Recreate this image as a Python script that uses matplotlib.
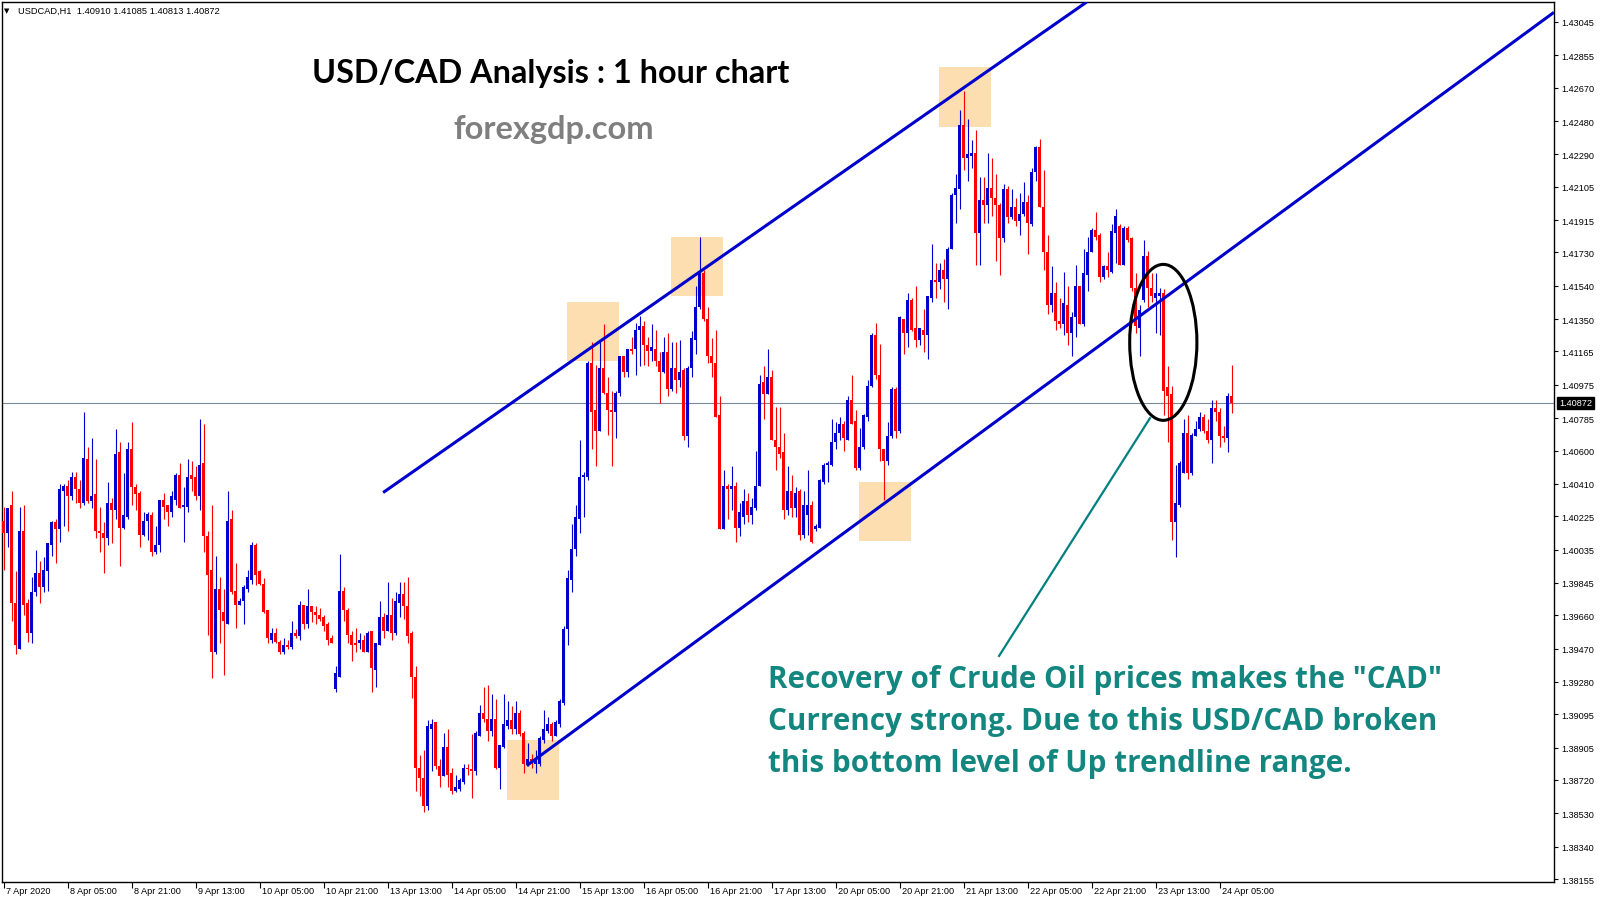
import matplotlib
matplotlib.use("Agg")
import matplotlib.pyplot as plt
import matplotlib.transforms as mtransforms
from matplotlib.patches import Rectangle, Ellipse

# ---------------- data ----------------
opens = [1.4020,1.4013,1.4029,1.3973,1.3947,1.4014,1.3973,1.3956,1.3979,1.3990,
 1.3982,1.3991,1.4006,1.4019,1.4015,1.4037,1.4040,1.4034,1.4045,1.4038,
 1.4030,1.4055,1.4031,1.4035,1.4014,1.4013,1.4010,1.4030,1.4026,1.4059,
 1.4016,1.4022,1.4061,1.4039,1.4036,1.4012,1.4020,1.4023,1.4002,1.4006,
 1.4032,1.4029,1.4025,1.4032,1.4046,1.4028,1.4028,1.4046,1.4045,1.4034,
 1.4053,1.4011,1.3992,1.3945,1.3981,1.3968,1.3961,1.4021,1.3980,1.3972,
 1.3974,1.3981,1.3986,1.4006,1.3991,1.3984,1.3969,1.3952,1.3956,1.3951,
 1.3945,1.3949,1.3948,1.3956,1.3954,1.3972,1.3961,1.3971,1.3968,1.3966,
 1.3965,1.3961,1.3953,1.3924,1.3931,1.3980,1.3969,1.3955,1.3950,1.3950,
 1.3952,1.3945,1.3957,1.3935,1.3949,1.3965,1.3957,1.3966,1.3956,1.3973,
 1.3978,1.3971,1.3956,1.3931,1.3879,1.3873,1.3857,1.3901,1.3905,1.3880,
 1.3874,1.3891,1.3876,1.3866,1.3867,1.3871,1.3879,1.3878,1.3877,1.3897,
 1.3910,1.3907,1.3900,1.3907,1.3879,1.3891,1.3903,1.3906,1.3901,1.3910,
 1.3899,1.3881,1.3884,1.3881,1.3881,1.3895,1.3900,1.3904,1.3897,1.3904,
 1.3916,1.3958,1.3986,1.4004,1.4021,1.4045,1.4045,1.4110,1.4083,1.4071,
 1.4107,1.4093,1.4083,1.4082,1.4093,1.4114,1.4105,1.4118,1.4118,1.4129,
 1.4131,1.4120,1.4117,1.4118,1.4111,1.4105,1.4116,1.4095,1.4107,1.4100,
 1.4106,1.4068,1.4107,1.4123,1.4142,1.4161,1.4135,1.4114,1.4110,1.4080,
 1.4015,1.4040,1.4038,1.4040,1.4016,1.4022,1.4031,1.4023,1.4027,1.4040,
 1.4099,1.4092,1.4102,1.4066,1.4062,1.4059,1.4026,1.4037,1.4027,1.4037,
 1.4012,1.4023,1.4029,1.4015,1.4016,1.4042,1.4052,1.4052,1.4065,1.4070,
 1.4075,1.4066,1.4089,1.4077,1.4050,1.4062,1.4079,1.4097,1.4126,1.4103,
 1.4061,1.4054,1.4068,1.4095,1.4071,1.4135,1.4127,1.4146,1.4130,1.4123,
 1.4129,1.4126,1.4147,1.4157,1.4156,1.4163,1.4158,1.4175,1.4206,1.4209,
 1.4246,1.4227,1.4228,1.4230,1.4184,1.4203,1.4200,1.4210,1.4204,1.4200,
 1.4181,1.4209,1.4193,1.4199,1.4191,1.4195,1.4202,1.4189,1.4219,1.4233,
 1.4199,1.4173,1.4143,1.4150,1.4134,1.4132,1.4143,1.4127,1.4136,1.4154,
 1.4132,1.4160,1.4173,1.4186,1.4183,1.4159,1.4165,1.4162,1.4184,1.4188,
 1.4166,1.4187,1.4181,1.4153,1.4130,1.4146,1.4171,1.4153,1.4147,1.4148,
 1.4150,1.4096,1.4092,1.4019,1.4029,1.4047,1.4070,1.4047,1.4068,1.4072,
 1.4079,1.4071,1.4066,1.4084,1.4082,1.4068,1.4067,1.40910]
highs = [1.4028,1.4027,1.4037,1.3991,1.4028,1.4029,1.3975,1.3988,1.4003,1.3997,
 1.3999,1.4007,1.4020,1.4021,1.4041,1.4041,1.4043,1.4048,1.4048,1.4043,
 1.4082,1.4062,1.4067,1.4055,1.4028,1.4019,1.4042,1.4033,1.4072,1.4065,
 1.4047,1.4065,1.4076,1.4041,1.4037,1.4025,1.4025,1.4025,1.4017,1.4032,
 1.4036,1.4029,1.4037,1.4047,1.4053,1.4039,1.4055,1.4054,1.4051,1.4078,
 1.4075,1.4014,1.4029,1.4000,1.3988,1.3981,1.4037,1.4026,1.3996,1.3976,
 1.3983,1.3992,1.4008,1.4007,1.3992,1.3987,1.3969,1.3959,1.3959,1.3952,
 1.3953,1.3952,1.3963,1.3958,1.3974,1.3972,1.3981,1.3971,1.3971,1.3970,
 1.3966,1.3962,1.3955,1.3937,1.4001,1.3982,1.3970,1.3957,1.3959,1.3956,
 1.3955,1.3957,1.3957,1.3950,1.3974,1.3967,1.3985,1.3976,1.3979,1.3985,
 1.3985,1.3988,1.3957,1.3937,1.3886,1.3889,1.3906,1.3907,1.3905,1.3884,
 1.3899,1.3901,1.3879,1.3875,1.3873,1.3881,1.3881,1.3898,1.3900,1.3915,
 1.3925,1.3926,1.3921,1.3918,1.3892,1.3921,1.3917,1.3914,1.3917,1.3912,
 1.3900,1.3893,1.3887,1.3889,1.3897,1.3912,1.3908,1.3905,1.3906,1.3918,
 1.3960,1.3992,1.4018,1.4029,1.4066,1.4048,1.4111,1.4122,1.4109,1.4123,
 1.4132,1.4102,1.4094,1.4094,1.4114,1.4114,1.4118,1.4125,1.4133,1.4137,
 1.4134,1.4125,1.4132,1.4129,1.4116,1.4125,1.4127,1.4122,1.4122,1.4123,
 1.4107,1.4108,1.4128,1.4154,1.4182,1.4163,1.4142,1.4124,1.4129,1.4091,
 1.4049,1.4041,1.4051,1.4042,1.4030,1.4038,1.4036,1.4033,1.4060,1.4103,
 1.4108,1.4118,1.4106,1.4085,1.4085,1.4070,1.4051,1.4046,1.4039,1.4038,
 1.4037,1.4049,1.4031,1.4018,1.4044,1.4053,1.4054,1.4078,1.4076,1.4079,
 1.4077,1.4091,1.4103,1.4083,1.4073,1.4081,1.4100,1.4127,1.4133,1.4121,
 1.4061,1.4076,1.4096,1.4096,1.4137,1.4135,1.4150,1.4147,1.4154,1.4130,
 1.4141,1.4148,1.4178,1.4167,1.4167,1.4169,1.4176,1.4207,1.4218,1.4254,
 1.4265,1.4249,1.4237,1.4243,1.4216,1.4216,1.4230,1.4227,1.4218,1.4201,
 1.4212,1.4211,1.4209,1.4204,1.4207,1.4213,1.4206,1.4221,1.4234,1.4238,
 1.4220,1.4183,1.4165,1.4156,1.4147,1.4162,1.4154,1.4139,1.4166,1.4154,
 1.4175,1.4182,1.4187,1.4196,1.4184,1.4166,1.4173,1.4189,1.4198,1.4189,
 1.4188,1.4188,1.4182,1.4161,1.4143,1.4180,1.4174,1.4161,1.4161,1.4153,
 1.4152,1.4108,1.4097,1.4052,1.4054,1.4078,1.4080,1.4070,1.4077,1.4082,
 1.4081,1.4078,1.4089,1.4089,1.4084,1.4074,1.4093,1.41085]
lows = [1.3992,1.4005,1.3963,1.3944,1.3947,1.3966,1.3951,1.3950,1.3977,1.3973,
 1.3979,1.3980,1.4000,1.3996,1.4008,1.4017,1.4014,1.4032,1.4030,1.4027,
 1.4029,1.4030,1.4027,1.4010,1.4002,1.3990,1.4006,1.4007,1.4021,1.3994,
 1.4015,1.4021,1.4029,1.4026,1.4005,1.4011,1.4009,1.4000,1.4001,1.4002,
 1.4021,1.4017,1.4022,1.4029,1.4027,1.4008,1.4025,1.4037,1.4032,1.4026,
 1.4002,1.3955,1.3930,1.3944,1.3950,1.3932,1.3961,1.3978,1.3959,1.3972,
 1.3961,1.3979,1.3984,1.3983,1.3983,1.3967,1.3950,1.3950,1.3950,1.3944,
 1.3944,1.3947,1.3947,1.3953,1.3952,1.3958,1.3959,1.3962,1.3961,1.3963,
 1.3957,1.3949,1.3950,1.3922,1.3931,1.3963,1.3950,1.3940,1.3945,1.3947,
 1.3945,1.3945,1.3922,1.3925,1.3949,1.3953,1.3957,1.3952,1.3955,1.3965,
 1.3964,1.3950,1.3919,1.3866,1.3863,1.3854,1.3855,1.3877,1.3878,1.3868,
 1.3874,1.3868,1.3864,1.3865,1.3866,1.3870,1.3875,1.3862,1.3875,1.3897,
 1.3905,1.3894,1.3897,1.3878,1.3867,1.3890,1.3901,1.3898,1.3898,1.3897,
 1.3876,1.3880,1.3879,1.3876,1.3880,1.3893,1.3899,1.3894,1.3897,1.3902,
 1.3915,1.3949,1.3979,1.4000,1.4013,1.4022,1.4043,1.4061,1.4051,1.4071,
 1.4092,1.4069,1.4051,1.4067,1.4091,1.4102,1.4102,1.4115,1.4103,1.4108,
 1.4109,1.4108,1.4111,1.4108,1.4087,1.4104,1.4091,1.4094,1.4093,1.4096,
 1.4066,1.4062,1.4102,1.4115,1.4141,1.4134,1.4110,1.4102,1.4079,1.4015,
 1.4015,1.4021,1.4026,1.4008,1.4011,1.4018,1.4019,1.4018,1.4026,1.4040,
 1.4078,1.4092,1.4066,1.4049,1.4056,1.4021,1.4023,1.4022,1.4022,1.4009,
 1.4010,1.4012,1.4007,1.4014,1.4016,1.4041,1.4042,1.4051,1.4061,1.4066,
 1.4060,1.4066,1.4075,1.4049,1.4049,1.4061,1.4077,1.4096,1.4101,1.4054,
 1.4032,1.4052,1.4067,1.4067,1.4070,1.4115,1.4119,1.4128,1.4119,1.4120,
 1.4116,1.4112,1.4145,1.4147,1.4152,1.4145,1.4141,1.4175,1.4190,1.4198,
 1.4220,1.4214,1.4221,1.4166,1.4166,1.4190,1.4190,1.4194,1.4168,1.4160,
 1.4179,1.4190,1.4192,1.4188,1.4183,1.4194,1.4172,1.4188,1.4214,1.4199,
 1.4163,1.4138,1.4139,1.4129,1.4130,1.4126,1.4120,1.4114,1.4125,1.4132,
 1.4131,1.4151,1.4173,1.4180,1.4156,1.4158,1.4159,1.4161,1.4167,1.4166,
 1.4166,1.4179,1.4151,1.4127,1.4114,1.4145,1.4142,1.4145,1.4127,1.4126,
 1.4080,1.4065,1.4009,1.3999,1.4028,1.4047,1.4044,1.4046,1.4068,1.4071,
 1.4070,1.4064,1.4053,1.4077,1.4062,1.4065,1.4059,1.40813]
closes = [1.4013,1.4027,1.3973,1.3949,1.4014,1.3972,1.3956,1.3979,1.3990,1.3982,
 1.3992,1.4007,1.4019,1.4015,1.4038,1.4040,1.4034,1.4045,1.4038,1.4030,
 1.4056,1.4031,1.4034,1.4014,1.4013,1.4010,1.4030,1.4026,1.4058,1.4016,
 1.4023,1.4061,1.4039,1.4035,1.4012,1.4020,1.4024,1.4002,1.4006,1.4032,
 1.4028,1.4025,1.4034,1.4046,1.4027,1.4029,1.4045,1.4044,1.4034,1.4052,
 1.4011,1.3989,1.3945,1.3981,1.3969,1.3963,1.4020,1.3979,1.3972,1.3974,
 1.3982,1.3988,1.4006,1.3989,1.3984,1.3968,1.3953,1.3956,1.3951,1.3945,
 1.3949,1.3948,1.3956,1.3954,1.3972,1.3961,1.3971,1.3968,1.3966,1.3964,
 1.3960,1.3952,1.3950,1.3933,1.3980,1.3969,1.3955,1.3949,1.3949,1.3952,
 1.3945,1.3956,1.3936,1.3950,1.3965,1.3957,1.3966,1.3956,1.3974,1.3978,
 1.3971,1.3954,1.3931,1.3879,1.3873,1.3857,1.3903,1.3904,1.3880,1.3874,
 1.3891,1.3875,1.3866,1.3868,1.3872,1.3879,1.3878,1.3877,1.3899,1.3910,
 1.3907,1.3900,1.3907,1.3879,1.3892,1.3904,1.3906,1.3901,1.3910,1.3898,
 1.3881,1.3884,1.3881,1.3883,1.3896,1.3901,1.3904,1.3897,1.3905,1.3917,
 1.3958,1.3987,1.4004,1.4022,1.4045,1.4046,1.4110,1.4082,1.4071,1.4107,
 1.4093,1.4083,1.4082,1.4093,1.4114,1.4105,1.4118,1.4117,1.4129,1.4131,
 1.4120,1.4117,1.4119,1.4111,1.4105,1.4116,1.4095,1.4107,1.4100,1.4105,
 1.4068,1.4107,1.4124,1.4142,1.4162,1.4135,1.4114,1.4110,1.4079,1.4015,
 1.4040,1.4038,1.4040,1.4016,1.4025,1.4031,1.4023,1.4028,1.4040,1.4098,
 1.4092,1.4102,1.4066,1.4062,1.4058,1.4026,1.4037,1.4027,1.4036,1.4012,
 1.4029,1.4029,1.4008,1.4017,1.4043,1.4052,1.4053,1.4065,1.4070,1.4075,
 1.4067,1.4089,1.4075,1.4050,1.4062,1.4080,1.4097,1.4126,1.4103,1.4061,
 1.4054,1.4068,1.4095,1.4071,1.4136,1.4127,1.4146,1.4129,1.4123,1.4130,
 1.4126,1.4148,1.4157,1.4156,1.4163,1.4158,1.4175,1.4206,1.4210,1.4246,
 1.4227,1.4229,1.4230,1.4184,1.4203,1.4200,1.4210,1.4204,1.4200,1.4181,
 1.4209,1.4193,1.4199,1.4191,1.4195,1.4202,1.4190,1.4219,1.4233,1.4199,
 1.4173,1.4143,1.4150,1.4134,1.4132,1.4144,1.4127,1.4136,1.4154,1.4132,
 1.4161,1.4173,1.4186,1.4182,1.4159,1.4165,1.4163,1.4185,1.4194,1.4166,
 1.4187,1.4180,1.4153,1.4131,1.4140,1.4171,1.4153,1.4148,1.4150,1.4150,
 1.4094,1.4091,1.4019,1.4030,1.4053,1.4070,1.4047,1.4069,1.4072,1.4079,
 1.4071,1.4066,1.4084,1.4082,1.4068,1.4067,1.4091,1.40872]

price_ticks = [1.43045,1.42855,1.42670,1.42480,1.42290,1.42105,1.41915,1.41730,
               1.41540,1.41350,1.41165,1.40975,1.40785,1.40600,1.40410,1.40225,
               1.40035,1.39845,1.39660,1.39470,1.39280,1.39095,1.38905,1.38720,
               1.38530,1.38340,1.38155]
date_labels = ["7 Apr 2020","8 Apr 05:00","8 Apr 21:00","9 Apr 13:00","10 Apr 05:00",
               "10 Apr 21:00","13 Apr 13:00","14 Apr 05:00","14 Apr 21:00","15 Apr 13:00",
               "16 Apr 05:00","16 Apr 21:00","17 Apr 13:00","20 Apr 05:00","20 Apr 21:00",
               "21 Apr 13:00","22 Apr 05:00","22 Apr 21:00","23 Apr 13:00","24 Apr 05:00"]
bars_per_label = 16
last_price = 1.40872
header = "USDCAD,H1  1.40910 1.41085 1.40813 1.40872"

# drawn objects (bar index, price)
upper_trend = [(94.9, 1.40360), (270.8, 1.43159)]
lower_trend = [(130.8, 1.38802), (387.6, 1.43100)]
pointer_line = [(248.9, 1.39428), (286.6, 1.40784)]
ellipse_center = (289.95, 1.41217)
ellipse_size = (16.8, 0.0089)
box_left = [125.9, 140.8, 166.9, 213.9, 233.9]
box_top = [1.38948, 1.41449, 1.41820, 1.40422, 1.42788]
box_w, box_h = 13.0, 0.00340

title = "USD/CAD Analysis : 1 hour chart"
site = "forexgdp.com"
note_lines = ['Recovery of Crude Oil prices makes the "CAD"',
              'Currency strong. Due to this USD/CAD broken',
              'this bottom level of Up trendline range.']

BULL = "#0000CD"
BEAR = "#FF0000"

# ---------------- figure ----------------
W, H = 1600, 904
fig = plt.figure(figsize=(W / 100, H / 100), dpi=100)
fig.patch.set_facecolor("white")
ax = fig.add_axes([2 / W, 21 / H, 1552 / W, 880 / H])
ax.set_xlim(-0.375, 387.625)
ax.set_ylim(1.38138, 1.43159)
for s in ax.spines.values():
    s.set_color("black")
    s.set_linewidth(1.0)

AXFONT = ["Liberation Sans", "DejaVu Sans"]

# boxes
for bl, bt in zip(box_left, box_top):
    ax.add_patch(Rectangle((bl, bt - box_h), box_w, box_h, facecolor="#FDDEB1",
                           edgecolor="none", zorder=1))

# price line
ax.axhline(last_price, color="#778899", lw=0.8, zorder=1.5)

# candles
xs = list(range(len(closes)))
cols = [BULL if c >= o else BEAR for o, c in zip(opens, closes)]
ax.vlines(xs, lows, highs, colors=cols, linewidth=0.8, zorder=2)
bottoms = [min(o, c) for o, c in zip(opens, closes)]
heights = [max(abs(c - o), 0.00006) for o, c in zip(opens, closes)]
ax.bar(xs, heights, bottom=bottoms, width=0.78, color=cols, linewidth=0, zorder=3)

# trend lines
ax.plot([p[0] for p in upper_trend], [p[1] for p in upper_trend], color=BULL, lw=2.2,
        zorder=4, solid_capstyle="butt")
ax.plot([p[0] for p in lower_trend], [p[1] for p in lower_trend], color=BULL, lw=2.2,
        zorder=4, solid_capstyle="butt")
ax.plot([p[0] for p in pointer_line], [p[1] for p in pointer_line], color="#008080",
        lw=1.6, zorder=4)
ax.add_patch(Ellipse(ellipse_center, ellipse_size[0], ellipse_size[1], fill=False,
                     edgecolor="black", lw=2.2, zorder=5))

# y axis on the right
ax.yaxis.tick_right()
ax.set_yticks(price_ticks)
ax.set_yticklabels([f"{v:.5f}" for v in price_ticks], fontsize=6.6, family=AXFONT)
ax.tick_params(axis="y", length=3, width=0.8, pad=2, colors="black", direction="out")

# x axis ticks with left-aligned labels
tick_pos = [i * bars_per_label for i in range(len(date_labels))]
ax.set_xticks(tick_pos)
ax.set_xticklabels([""] * len(tick_pos))
ax.tick_params(axis="x", length=4, width=0.8, direction="out")
blend = mtransforms.blended_transform_factory(ax.transData, ax.transAxes)
off = mtransforms.ScaledTranslation(2 / 100, -9 / 100, fig.dpi_scale_trans)
for tp, lab in zip(tick_pos, date_labels):
    ax.text(tp, 0, lab, transform=blend + off, ha="left", va="center",
            fontsize=6.6, family=AXFONT, color="black", clip_on=False)

# last price tag
blend_y = mtransforms.blended_transform_factory(ax.transAxes, ax.transData)
off2 = mtransforms.ScaledTranslation(5 / 100, 0, fig.dpi_scale_trans)
ax.text(1.0, last_price, f"{last_price:.5f}", transform=blend_y + off2, ha="left",
        va="center", fontsize=6.6, family=AXFONT, color="white", clip_on=False,
        zorder=10, bbox=dict(boxstyle="square,pad=0.18", fc="black", ec="black"))

# header
fig.text(4 / W, 1 - 11 / H, "\u25BC", fontsize=5, family=["DejaVu Sans"], va="center",
         ha="left", color="#000000")
fig.text(18 / W, 1 - 11 / H, header, fontsize=6.7, family=AXFONT, va="center",
         ha="left", color="#000000")

# titles
fig.text(551 / W, 1 - 73 / H, title, fontsize=23.3, fontweight="bold",
         family=["Lato", "DejaVu Sans"], ha="center", va="center", color="black")
fig.text(554 / W, 1 - 130 / H, site, fontsize=23.5, fontweight="bold",
         family=["Lato", "DejaVu Sans"], ha="center", va="center", color="#7F7F7F")
for i, line in enumerate(note_lines):
    fig.text(768 / W, 1 - (680 + 41.8 * i) / H, line, fontsize=21.3, fontweight="bold",
             family=["Open Sans", "Lato", "DejaVu Sans"], ha="left", va="center",
             color="#13877F")

fig.savefig("out.png", dpi=100)
